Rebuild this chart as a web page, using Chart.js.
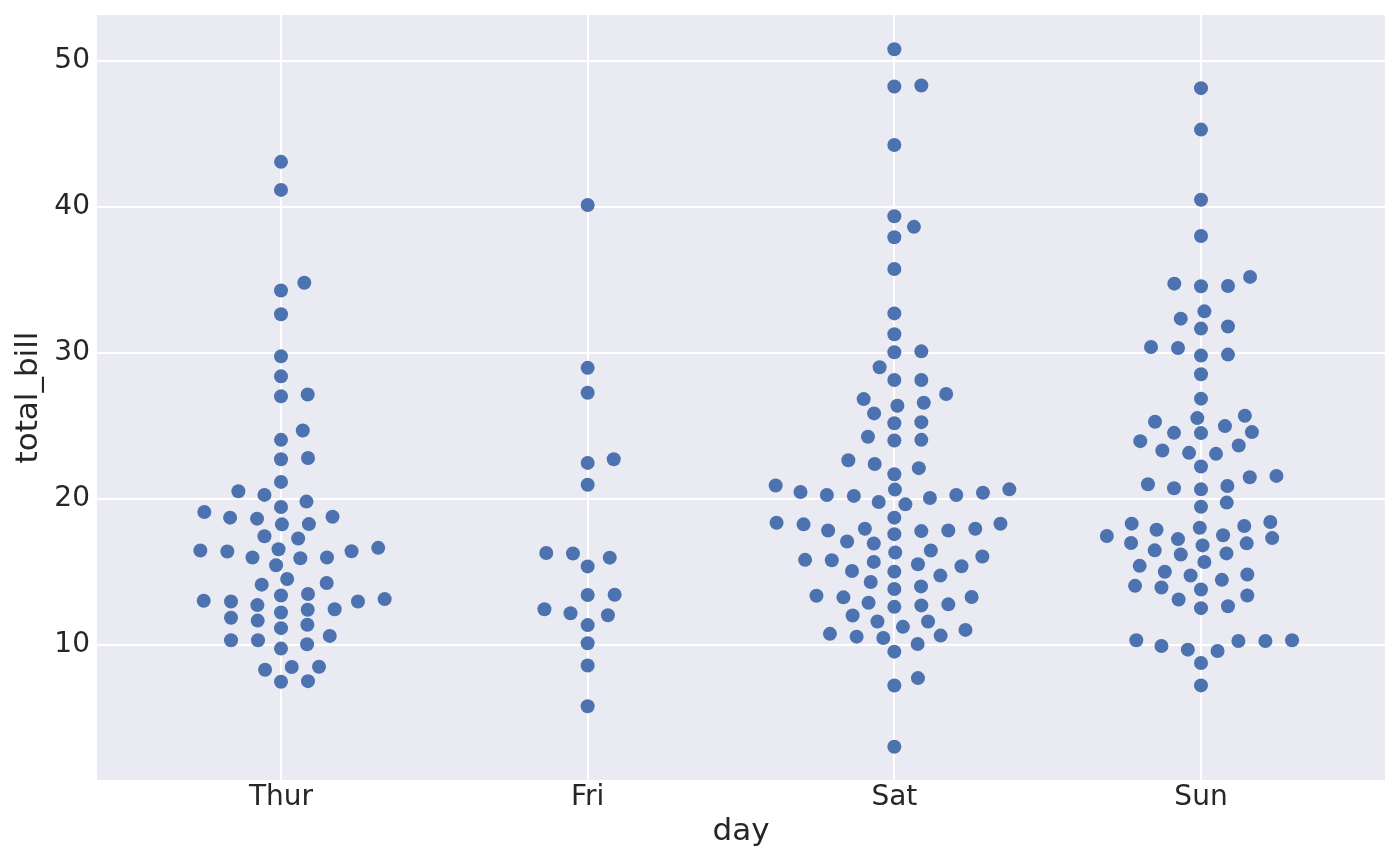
<!DOCTYPE html>
<html>
<head>
<meta charset="utf-8">
<script src="https://cdn.jsdelivr.net/npm/chart.js@4"></script>
<style>
  html, body { margin: 0; padding: 0; background: #ffffff; }
  canvas { display: block; }
</style>
</head>
<body>
<canvas id="myChart" width="1400" height="866"></canvas>
<script>
// Categorias y ticks
const days = ["Thur", "Fri", "Sat", "Sun"];
const yTicks = [10, 20, 30, 40, 50];

// total_bill por dia, y desplazamiento horizontal de cada punto (en unidades de categoria)
const thurBill = [43.09, 41.17, 34.81, 34.28, 32.65, 29.77, 28.40, 27.03, 27.16, 24.69, 24.05, 22.72, 22.81,
  21.17, 20.53, 20.28, 19.45, 19.82, 19.11, 18.72, 18.65, 18.26, 18.28, 18.78, 17.45, 17.29,
  16.47, 16.40, 16.56, 15.99, 15.94, 15.99, 16.42, 16.65, 15.46, 14.52, 14.13, 14.24,
  13.39, 13.49, 13.03, 12.98, 12.73, 12.22, 12.41, 12.45, 12.98, 13.14,
  11.86, 11.67, 11.15, 11.38, 10.62, 10.32, 10.32, 9.75, 10.05, 8.30, 8.49, 8.51, 7.48, 7.52];
const thurShift = [0, 0, 0.076, 0, 0, 0, 0, 0, 0.087, 0.071, 0, 0, 0.088,
  0, -0.139, -0.054, 0, 0.083, -0.250, -0.166, -0.078, 0.003, 0.091, 0.168, -0.054, 0.056,
  -0.263, -0.175, -0.008, -0.093, 0.063, 0.150, 0.230, 0.317, -0.016, 0.020, -0.063, 0.149,
  0, 0.088, -0.252, -0.163, -0.077, 0, 0.087, 0.175, 0.251, 0.338,
  -0.163, -0.076, 0, 0.086, 0.159, -0.163, -0.075, 0, 0.085, -0.052, 0.035, 0.124, 0, 0.088];

const friBill = [40.14, 28.98, 27.28, 22.47, 22.72, 20.97, 16.30, 16.26, 15.38, 15.98,
  13.42, 13.44, 12.45, 12.17, 12.03, 11.36, 10.12, 8.59, 5.80];
const friShift = [0, 0, 0, 0, 0.085, 0, -0.135, -0.048, 0, 0.072,
  0, 0.088, -0.141, -0.056, 0.066, 0, 0, 0, 0];

const satBill = [50.80, 48.25, 48.32, 44.25, 39.36, 38.64, 37.93, 35.75, 32.71,
  31.28, 30.05, 30.11, 29.02, 28.15, 28.15, 27.19, 26.84, 26.38, 26.59, 25.86, 25.19, 25.26,
  24.26, 24.00, 24.05, 22.65, 22.40, 21.69, 22.11, 20.92, 20.48, 20.27, 20.21, 19.79, 20.64,
  19.63, 20.07, 20.27, 20.43, 20.66,
  18.37, 18.26, 17.84, 17.96, 18.72, 17.59, 17.80, 17.84, 17.96, 18.30, 17.09, 16.95, 16.33, 16.47,
  15.83, 15.80, 15.69, 15.53, 16.06, 15.39, 15.07, 15.02, 14.75, 14.31, 13.83, 14.01,
  13.37, 13.26, 12.89, 12.61, 12.71, 12.78, 13.28, 12.02, 11.61, 11.24, 11.61,
  10.76, 10.57, 10.48, 10.64, 11.03, 10.07, 9.54, 7.73, 7.22, 3.03];
const satShift = [0, 0, 0.088, 0, 0, 0.064, 0, 0, 0,
  0, 0, 0.088, -0.048, 0, 0.088, 0.169, -0.100, 0.010, 0.096, -0.066, 0, 0.088,
  -0.086, 0, 0.088, -0.150, -0.064, 0, 0.080, -0.387, -0.306, -0.220, -0.132, -0.051, 0.002,
  0.036, 0.116, 0.202, 0.289, 0.375,
  -0.384, -0.296, -0.216, -0.096, 0, 0, 0.088, 0.176, 0.264, 0.346, -0.154, -0.067, 0.003, 0.119,
  -0.291, -0.204, -0.067, 0.077, 0.287, 0.219, -0.138, 0, 0.150, -0.077, 0, 0.087,
  -0.254, -0.166, -0.084, 0, 0.088, 0.176, 0.252, -0.136, -0.055, 0.028, 0.110,
  -0.210, -0.123, -0.036, 0.151, 0.232, 0.076, 0, 0.077, 0, 0];

const sunBill = [48.14, 45.30, 40.50, 38.01, 34.75, 34.57, 34.59, 35.21, 32.85, 32.35, 31.67, 31.81, 30.41, 30.34,
  29.82, 29.89, 28.54, 26.87, 25.29, 25.54, 25.70, 24.53, 24.51, 24.99, 24.58, 23.96, 23.32, 23.16, 23.09, 23.66,
  22.22, 21.01, 20.73, 20.66, 20.89, 21.49, 21.58, 19.47, 19.75,
  17.46, 18.31, 17.89, 18.03, 17.51, 18.15, 18.42, 16.98, 17.25, 16.82, 16.96, 17.32, 16.48, 16.20, 16.27, 15.68,
  15.42, 15.01, 14.76, 14.46, 14.83, 14.05, 13.94, 13.80, 13.11, 13.39, 12.52, 12.65,
  10.32, 9.93, 9.68, 9.59, 10.27, 10.27, 10.32, 8.76, 7.23];
const sunShift = [0, 0, 0, 0, -0.087, 0, 0.088, 0.160, 0.011, -0.066, 0, 0.088, -0.163, -0.075,
  0, 0.088, 0, 0, -0.150, -0.012, 0.143, -0.088, 0, 0.078, 0.166, -0.198, -0.126, -0.039, 0.049, 0.123,
  0, -0.173, -0.088, 0, 0.086, 0.159, 0.246, 0, 0.084,
  -0.307, -0.226, -0.145, -0.004, 0.072, 0.141, 0.226, -0.228, -0.075, 0.005, 0.149, 0.232, -0.151, -0.066, 0.083, 0.011,
  -0.200, -0.118, -0.034, 0.068, 0.151, -0.215, -0.129, 0, -0.073, 0.151, 0, 0.088,
  -0.211, -0.129, -0.043, 0.054, 0.122, 0.210, 0.297, 0, 0];

const billsByDay = [thurBill, friBill, satBill, sunBill];
const shiftsByDay = [thurShift, friShift, satShift, sunShift];

// Puntos en coordenadas de datos: x = indice del dia + desplazamiento
const points = [];
billsByDay.forEach((bills, i) => {
  bills.forEach((bill, j) => {
    points.push({ x: i + shiftsByDay[i][j], y: bill });
  });
});

const textColor = "#262626";
const fontFamily = "'DejaVu Sans', sans-serif";

// Fondo gris del area del grafico (estilo darkgrid)
const plotBackground = {
  id: "plotBackground",
  beforeDraw: (chart) => {
    const { ctx, chartArea } = chart;
    ctx.save();
    ctx.fillStyle = "#EAEAF2";
    ctx.fillRect(chartArea.left, chartArea.top, chartArea.right - chartArea.left, chartArea.bottom - chartArea.top);
    ctx.restore();
  }
};

const config = {
  type: "scatter",
  data: {
    datasets: [{
      data: points,
      backgroundColor: "#4C72B0",
      borderWidth: 0,
      pointRadius: 7,
      pointHoverRadius: 7
    }]
  },
  options: {
    responsive: false,
    devicePixelRatio: 1,
    animation: false,
    layout: { padding: { top: 15, right: 15, left: 0, bottom: 0 } },
    plugins: {
      legend: { display: false },
      tooltip: { enabled: false }
    },
    scales: {
      x: {
        type: "linear",
        min: -0.6,
        max: 3.6,
        afterBuildTicks: (scale) => {
          scale.ticks = days.map((d, i) => ({ value: i }));
        },
        afterFit: (scale) => {
          scale.height = 86;
          scale.paddingLeft = 0;
          scale.paddingRight = 0;
        },
        ticks: {
          callback: (value) => days[value],
          color: textColor,
          font: { family: fontFamily, size: 28 },
          padding: 1,
          maxRotation: 0
        },
        grid: { color: "#ffffff", lineWidth: 2, drawTicks: false },
        border: { display: false },
        title: {
          display: true,
          text: "day",
          color: textColor,
          font: { family: fontFamily, size: 31 },
          padding: { top: 0, bottom: 15 }
        }
      },
      y: {
        min: 0.75,
        max: 53.15,
        afterBuildTicks: (scale) => {
          scale.ticks = yTicks.map((v) => ({ value: v }));
        },
        // ancho fijo del eje y sin margen extra arriba/abajo
        afterFit: (scale) => {
          scale.width = 97;
          scale.paddingTop = 0;
          scale.paddingBottom = 0;
        },
        ticks: {
          color: textColor,
          font: { family: fontFamily, size: 28 },
          padding: 7
        },
        grid: { color: "#ffffff", lineWidth: 2, drawTicks: false },
        border: { display: false },
        title: {
          display: true,
          text: "total_bill",
          color: textColor,
          font: { family: fontFamily, size: 31 },
          padding: { top: 10, bottom: 0 }
        }
      }
    }
  },
  plugins: [plotBackground]
};

const myChart = new Chart(document.querySelector("#myChart"), config);
</script>
</body>
</html>
